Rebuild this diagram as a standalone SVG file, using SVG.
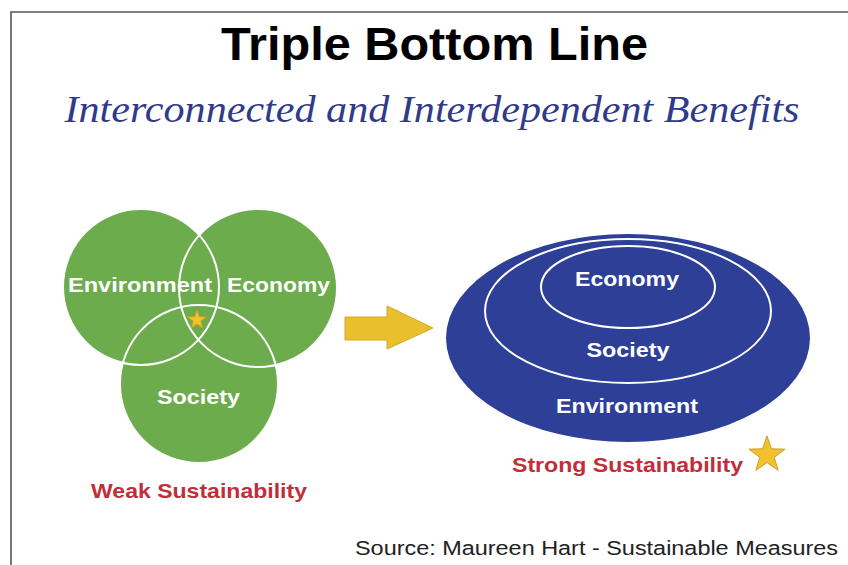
<svg xmlns="http://www.w3.org/2000/svg" width="848" height="565" viewBox="0 0 848 565">
<style>
.lbl{font-family:"Liberation Sans",Arial,sans-serif;font-weight:bold;fill:#fff;font-size:20.5px;text-anchor:middle}
.green{fill:#6DAC4D}
.ring{fill:none;stroke:#fff;stroke-width:2}
.red{font-family:"Liberation Sans",Arial,sans-serif;font-weight:bold;fill:#C22D3A;font-size:20.5px;text-anchor:middle}
.star{fill:#F2C12E;stroke:#C9A020;stroke-width:1}
</style>
<rect x="0" y="0" width="848" height="565" fill="#fff"/>
<path d="M11,565 V12 H848" fill="none" stroke="#555" stroke-width="1.6"/>
<text x="434.5" y="60" font-family="'Liberation Sans',Arial,sans-serif" font-weight="bold" font-size="46" text-anchor="middle" textLength="427" lengthAdjust="spacingAndGlyphs" fill="#000">Triple Bottom Line</text>
<text x="432" y="122" font-family="'Liberation Serif','Times New Roman',serif" font-style="italic" font-size="37" text-anchor="middle" textLength="735" lengthAdjust="spacingAndGlyphs" fill="#2F3A8A">Interconnected and Interdependent Benefits</text>
<g id="weak">
<circle class="green" cx="141" cy="287" r="78"/>
<circle class="green" cx="258" cy="288" r="79"/>
<circle class="green" cx="199" cy="384" r="79"/>
<circle class="ring" cx="141" cy="287" r="78"/>
<circle class="ring" cx="258" cy="288" r="79"/>
<circle class="ring" cx="199" cy="384" r="79"/>
</g>
<g id="weak-environment"><text class="lbl" x="140" y="292" textLength="144" lengthAdjust="spacingAndGlyphs">Environment</text></g>
<g id="weak-economy"><text class="lbl" x="278.5" y="292" textLength="103" lengthAdjust="spacingAndGlyphs">Economy</text></g>
<g id="weak-society"><text class="lbl" x="198.5" y="404" textLength="83" lengthAdjust="spacingAndGlyphs">Society</text></g>
<polygon class="star" points="197,310 199.35,316.76 206.51,316.91 200.8,321.24 202.88,328.09 197,324 191.12,328.09 193.2,321.24 187.49,316.91 194.65,316.76"/>
<text class="red" x="199" y="498" textLength="216" lengthAdjust="spacingAndGlyphs">Weak Sustainability</text>
<g id="connectors">
<polygon points="345,317 387,317 387,306 433,328 387,349 387,340 345,340" fill="#EABF2E" stroke="#D2A824" stroke-width="1"/>
</g>
<g id="strong">
<ellipse cx="628" cy="338" rx="182" ry="104" fill="#2D3F96"/>
<ellipse class="ring" cx="628" cy="311" rx="143" ry="72"/>
<ellipse class="ring" cx="628" cy="287" rx="87" ry="41"/>
</g>
<g id="strong-economy"><text class="lbl" x="627" y="286" textLength="104" lengthAdjust="spacingAndGlyphs">Economy</text></g>
<g id="strong-society"><text class="lbl" x="628" y="357" textLength="83" lengthAdjust="spacingAndGlyphs">Society</text></g>
<g id="strong-environment"><text class="lbl" x="627" y="413" textLength="142" lengthAdjust="spacingAndGlyphs">Environment</text></g>
<text class="red" x="627.5" y="472" textLength="231" lengthAdjust="spacingAndGlyphs">Strong Sustainability</text>
<polygon class="star" points="767,436 771.47,448.84 785.07,449.13 774.22,457.36 778.17,470.37 767,462.6 755.83,470.37 759.78,457.36 748.93,449.13 762.53,448.84"/>
<text x="596.5" y="555" font-family="'Liberation Sans',Arial,sans-serif" font-size="19.5" text-anchor="middle" textLength="483" lengthAdjust="spacingAndGlyphs" fill="#222">Source: Maureen Hart - Sustainable Measures</text>
</svg>
